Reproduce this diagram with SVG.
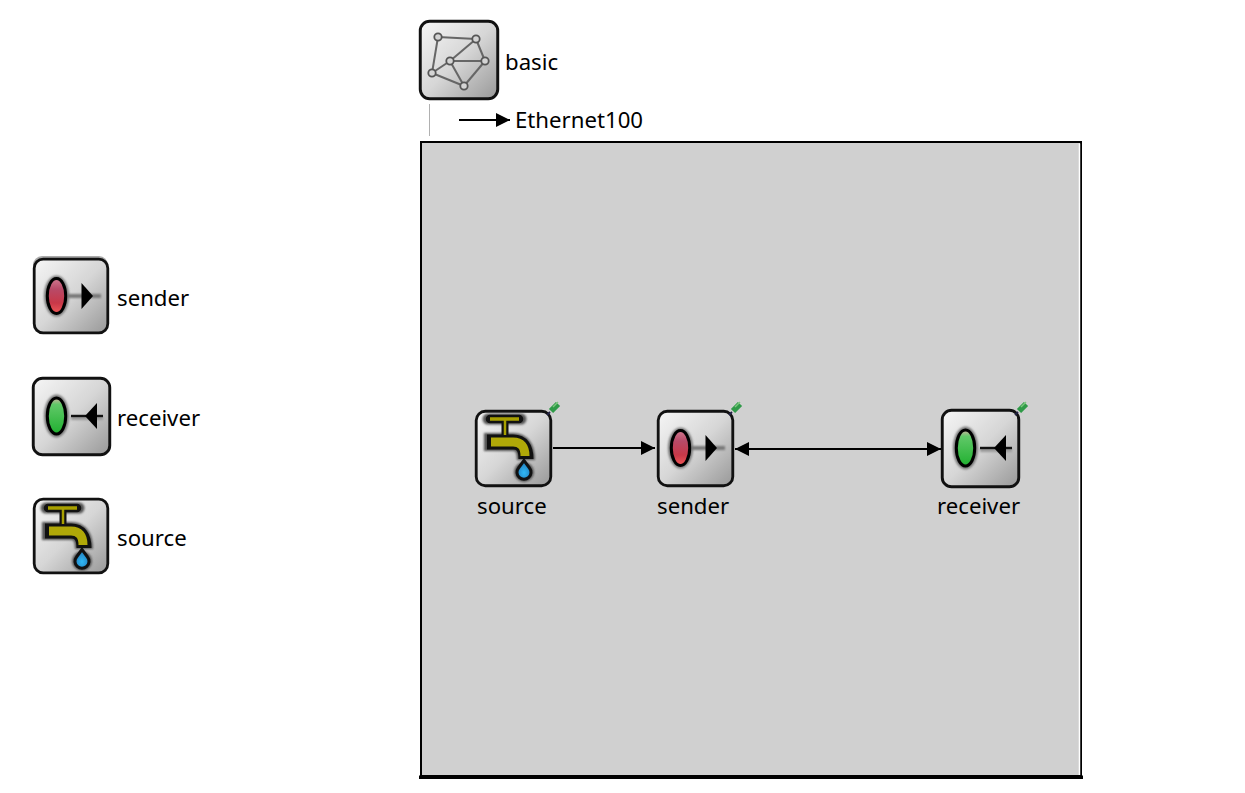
<svg xmlns="http://www.w3.org/2000/svg" width="1245" height="793" viewBox="0 0 1245 793">
<style>
text{font-family:"Noto Sans","Open Sans","Liberation Sans",sans-serif;font-size:22.2px;fill:#000}
.c{stroke:#000;stroke-width:2;fill:none}
.net line{stroke:#666;stroke-width:2}
.net circle{fill:#d4d4d4;stroke:#555;stroke-width:1.800}
</style>
<defs>
<linearGradient id="bg" x1="0" y1="0" x2="1" y2="1"><stop offset="0" stop-color="#f6f6f6"/><stop offset=".5" stop-color="#d6d6d6"/><stop offset="1" stop-color="#989898"/></linearGradient>
<linearGradient id="red" x1="0" y1="0" x2="0" y2="1"><stop offset="0" stop-color="#d07a90"/><stop offset=".3" stop-color="#b84a68"/><stop offset=".7" stop-color="#c83848"/><stop offset="1" stop-color="#f05858"/></linearGradient>
<linearGradient id="grn" x1="0" y1="0" x2="0" y2="1"><stop offset="0" stop-color="#d0b0a0"/><stop offset=".18" stop-color="#60c868"/><stop offset="1" stop-color="#20b030"/></linearGradient>
<radialGradient id="drop" cx=".5" cy=".65" r=".6"><stop offset="0" stop-color="#30b8f4"/><stop offset="1" stop-color="#2078b8"/></radialGradient>
<filter id="soft" x="-30%" y="-30%" width="160%" height="160%"><feGaussianBlur stdDeviation="1.300"/></filter>
<marker id="ah" markerUnits="userSpaceOnUse" markerWidth="15" markerHeight="14" refX="14" refY="7" orient="auto-start-reverse"><path d="M0 0L14 7L0 14z" fill="#000"/></marker>
<symbol id="box" viewBox="0 0 76 76" overflow="visible"><rect x="1.200" y="1.200" width="73.600" height="73.600" rx="9" fill="url(#bg)" stroke="#111" stroke-width="2.800"/></symbol>
<g id="g-send">
<g filter="url(#soft)"><ellipse cx="23.500" cy="37" rx="12.500" ry="20.500" fill="#777"/><path d="M36 37H68" stroke="#777" stroke-width="4"/></g>
<path d="M48.500 24L60 37L48.500 50z" fill="#000"/>
<ellipse cx="23.500" cy="37" rx="9.200" ry="17.500" fill="url(#red)" stroke="#000" stroke-width="3"/>
</g>
<g id="g-recv">
<g filter="url(#soft)"><ellipse cx="23.500" cy="39" rx="12.500" ry="21.500" fill="#777"/><path d="M38 41H70" stroke="#999" stroke-width="4"/></g>
<path d="M38 39H70" stroke="#111" stroke-width="2.400"/>
<path d="M64 26L52 39L64 52z" fill="#000"/>
<ellipse cx="23.500" cy="39" rx="9.200" ry="18" fill="url(#grn)" stroke="#000" stroke-width="3"/>
</g>
<g id="g-tap">
<g filter="url(#soft)"><path d="M13 10H46" stroke="#555" stroke-width="11" stroke-linecap="round"/><path d="M9 33H38Q51 33 51 51" fill="none" stroke="#555" stroke-width="18"/><circle cx="49" cy="63" r="10" fill="#555"/></g>
<path d="M15 10H44" stroke="#111" stroke-width="8.500" stroke-linecap="round"/>
<path d="M30 10V26" stroke="#111" stroke-width="7"/>
<path d="M12 33H38Q51 33 51 50" fill="none" stroke="#111" stroke-width="15"/>
<path d="M15 10H44" stroke="#a8a000" stroke-width="3.500"/>
<path d="M30 10V26" stroke="#a8a000" stroke-width="2.500"/>
<path d="M16 33H38Q50 33 50 47" fill="none" stroke="#b0a808" stroke-width="9"/>
<path d="M49 51.500L43.500 59A7 7 0 1 0 54.500 59z" fill="url(#drop)" stroke="#111" stroke-width="3"/>
</g>
<g id="pin"><path d="M0 15L3 12" stroke="#224" stroke-width="1.800"/><path d="M4 11L11 4" stroke="#2f9a48" stroke-width="6"/><path d="M6 7L11 2" stroke="#7cc87c" stroke-width="1.500"/></g>
</defs>

<g id="frame">
<rect x="421" y="142" width="660" height="634" fill="#d0d0d0" stroke="#000" stroke-width="2"/>
<path d="M1079.500 143.500V775" stroke="#fff" stroke-width="1.500" fill="none"/>
<rect x="419" y="775.500" width="664" height="3.500" fill="#000"/>
</g>

<g id="connectors">
<path class="c" d="M553 448H655" marker-end="url(#ah)"/>
<path class="c" d="M735 449H941" marker-start="url(#ah)" marker-end="url(#ah)"/>
</g>

<g id="basic">
<use href="#box" width="80" height="80" transform="translate(419 20)"/>
<g class="net">
<line x1="438" y1="37" x2="476" y2="39"/><line x1="438" y1="37" x2="432" y2="73"/><line x1="476" y1="39" x2="450" y2="61"/><line x1="476" y1="39" x2="485" y2="61"/><line x1="450" y1="61" x2="485" y2="61"/><line x1="450" y1="61" x2="432" y2="73"/><line x1="450" y1="61" x2="464" y2="86"/><line x1="432" y1="73" x2="464" y2="86"/><line x1="485" y1="61" x2="464" y2="86"/>
<circle cx="438" cy="37" r="3.700"/><circle cx="476" cy="39" r="3.700"/><circle cx="450" cy="61" r="3.700"/><circle cx="485" cy="61" r="3.700"/><circle cx="432" cy="73" r="3.700"/><circle cx="464" cy="86" r="3.700"/>
</g>
<text x="505" y="69.500">basic</text>
</g>

<g id="legend-channel">
<path d="M429.500 104V136" stroke="#b0b0b0" stroke-width="1"/>
<path d="M459 120H510" stroke="#000" stroke-width="2" marker-end="url(#ah)"/>
<text x="515" y="128">Ethernet100</text>
</g>

<g id="legend-sender">
<rect x="33" y="256" width="75" height="78" rx="9" fill="#aaa"/>
<use href="#box" width="76" height="76" transform="translate(33 258)"/>
<use href="#g-send" transform="translate(33 259)"/>
<text x="117" y="305.500">sender</text>
</g>
<g id="legend-receiver">
<use href="#box" width="79" height="79" transform="translate(32 377)"/>
<use href="#g-recv" transform="translate(33 377)"/>
<text x="117" y="425.500">receiver</text>
</g>
<g id="legend-source">
<use href="#box" width="76" height="76" transform="translate(33 498)"/>
<use href="#g-tap" transform="translate(33 498)"/>
<text x="117" y="545.500">source</text>
</g>

<g id="source">
<use href="#box" width="77" height="77" transform="translate(475 410)"/>
<use href="#g-tap" transform="translate(475 409)"/>
<use href="#pin" transform="translate(547 400)"/>
<text x="477" y="513.500">source</text>
</g>
<g id="sender">
<use href="#box" width="77" height="77" transform="translate(657 410)"/>
<use href="#g-send" transform="translate(657 411)"/>
<use href="#pin" transform="translate(729 400)"/>
<text x="657" y="513.500">sender</text>
</g>
<g id="receiver">
<use href="#box" width="79" height="79" transform="translate(941 409)"/>
<use href="#g-recv" transform="translate(942 409)"/>
<use href="#pin" transform="translate(1015 400)"/>
<text x="937" y="513.500">receiver</text>
</g>
</svg>
